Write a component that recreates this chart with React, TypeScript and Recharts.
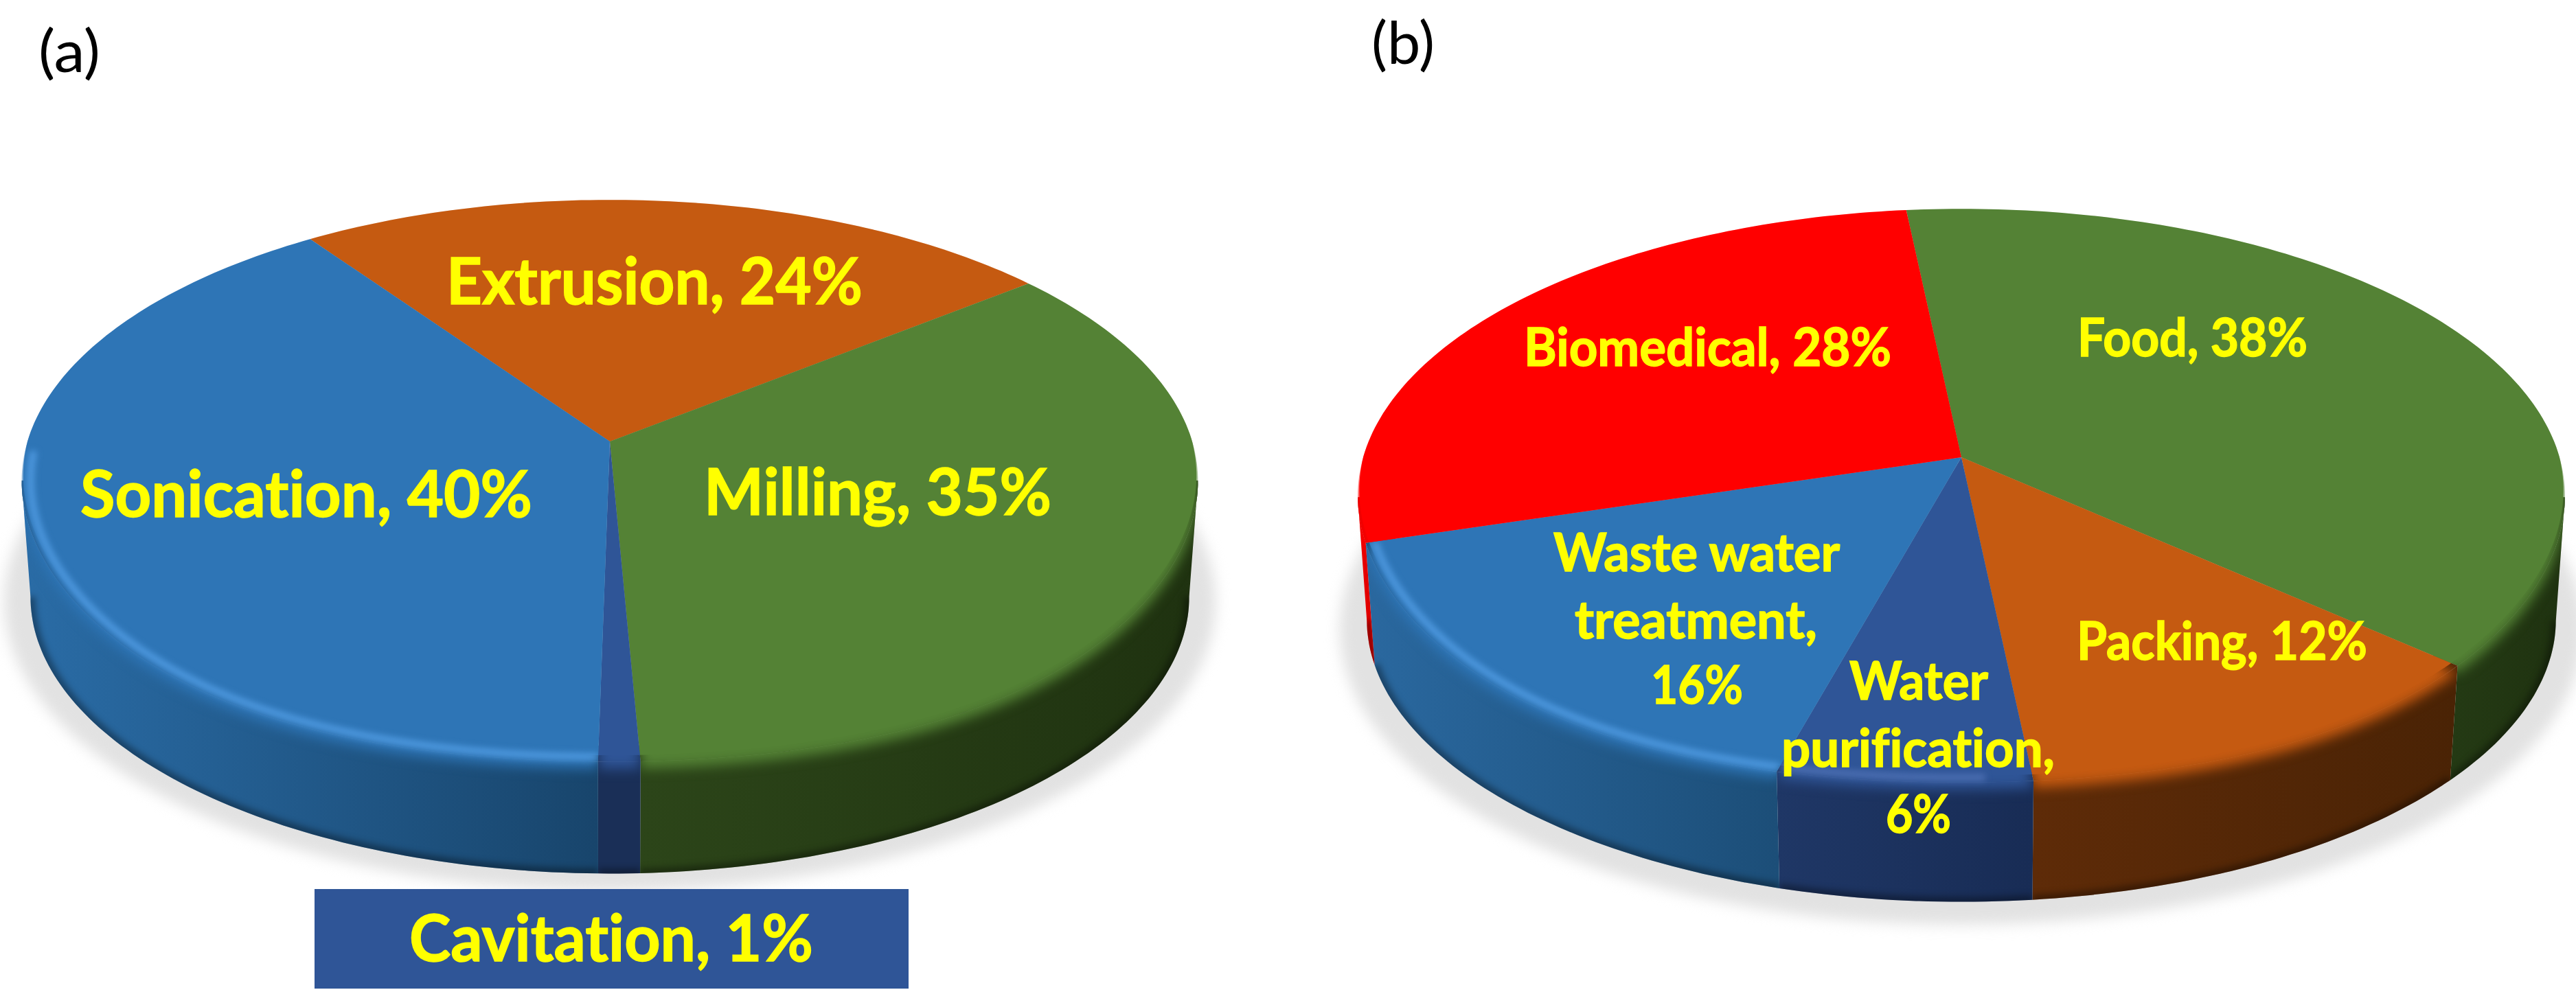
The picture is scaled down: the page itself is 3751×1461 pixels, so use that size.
import React from 'react';
import { PieChart, Pie } from 'recharts';

const W = 3751;
const H = 1461;

// (a) production methods
const methodNames = ['Extrusion', 'Milling', 'Cavitation', 'Sonication'];
const methodValues = [24, 35, 1, 40];
const methodLines = [['Extrusion, 24%'], ['Milling, 35%'], ['Cavitation, 1%'], ['Sonication, 40%']];

// (b) applications
const useNames = ['Food', 'Packing', 'Water purification', 'Waste water treatment', 'Biomedical'];
const useValues = [38, 12, 6, 16, 28];
const useLines = [
  ['Food, 38%'],
  ['Packing, 12%'],
  ['Water', 'purification,', '6%'],
  ['Waste water', 'treatment,', '16%'],
  ['Biomedical, 28%'],
];

const topColors: any = {
  Extrusion: '#C55A11', Milling: '#548235', Cavitation: '#2F5597', Sonication: '#2E75B6',
  Food: '#548235', Packing: '#C55A11', 'Water purification': '#2F5597',
  'Waste water treatment': '#2E75B6', Biomedical: '#FF0000',
};
const wallColors: any = {
  Extrusion: ['#5c2a08', '#4a2305'], Milling: ['#2c4519', '#1f3210'],
  Cavitation: ['#1a2f57', '#1a2f57'], Sonication: ['#2a6ca6', '#18456c'],
  Food: ['#243a14', '#1f3210'], Packing: ['#5e2b08', '#4a2305'],
  'Water purification': ['#1f3766', '#182c55'], 'Waste water treatment': ['#2a689f', '#1c4e78'],
  Biomedical: ['#f00000', '#d80000'],
};
const rimGlow: any = { Sonication: '#5aa6ee', 'Waste water treatment': '#5aa6ee', 'Water purification': '#5577bb' };

// where each label line sits: [left, baseline, width]
const methodSpots = [
  [[650, 443, 606]],
  [[1025, 750, 506]],
  [[596, 1400, 588]],
  [[117, 753, 658]],
];
const useSpots = [
  [[3025, 519, 335]],
  [[3024, 961, 423]],
  [[2693, 1019, 202], [2594, 1117, 398], [2746, 1213, 95]],
  [[2262, 832, 417], [2293, 930, 353], [2404, 1025, 134]],
  [[2219, 533, 535]],
];

const panels = [
  {
    key: 'a', names: methodNames, values: methodValues, lines: methodLines, spots: methodSpots,
    cx: 888, cy: 643, radius: 848, tilt: 0.473, k: 0.14, depth: 170, shadowDrop: 174, startAngle: 125, fontSize: 94,
  },
  {
    key: 'b', names: useNames, values: useValues, lines: useLines, spots: useSpots,
    cx: 2856, cy: 666, radius: 871, tilt: 0.471, k: 0.134, depth: 181, shadowDrop: 193, startAngle: 96, fontSize: 76,
  },
];

const idOf = (panel: any, name: string) => panel.key + '-' + name.replace(/\s+/g, '-');

// tilted disc with a bit of perspective, far side squeezed; rim is a bit fuller at the front
function project(panel: any, p: any, angle: number, scale = 1, drop = 0) {
  const a = (angle * Math.PI) / 180;
  const s = Math.sin(a);
  const w = 1 + panel.k * s;
  const fuller = drop === 0 && s < 0 ? 1 + 0.035 * Math.sin(2 * a) ** 2 : 1;
  return [
    p.cx + (scale * p.outerRadius * Math.cos(a)) / w,
    p.cy + drop - (scale * fuller * p.outerRadius * panel.tilt * s) / w,
  ];
}

function arc(panel: any, p: any, from: number, to: number, scale = 1, drop = 0) {
  const steps = Math.max(2, Math.ceil(Math.abs(to - from)));
  const pts: string[] = [];
  for (let i = 0; i <= steps; i++) {
    const q = project(panel, p, from + ((to - from) * i) / steps, scale, drop);
    pts.push(q[0].toFixed(1) + ' ' + q[1].toFixed(1));
  }
  return pts;
}

const topPath = (panel: any, p: any, scale = 1) =>
  'M' + p.cx + ' ' + p.cy + ' L' + arc(panel, p, p.startAngle, p.endAngle, scale).join(' L') + ' Z';

// front of the disc only, the back of the wall can't be seen
const frontFrom = -8;
const frontTo = -172;

const shadowShape = (panel: any) => (p: any) => (
  <path
    d={'M' + arc(panel, p, 0, 360, 1.03, panel.shadowDrop).join(' L') + ' Z'}
    fill="#e2e2e2"
    style={{ filter: 'blur(10px)' }}
  />
);

const wallShape = (panel: any) => (p: any) => {
  const id = idOf(panel, p.name);
  const from = Math.min(p.startAngle, frontFrom);
  const to = Math.max(p.endAngle, frontTo);
  const seen = from > to;
  const outline = seen
    ? 'M' + arc(panel, p, from, to).join(' L') + ' L' + arc(panel, p, to, from, 0.985, panel.depth).join(' L') + ' Z'
    : '';
  // strip just inside the rim so nothing shows through the soft edge
  const strip = seen
    ? 'M' + arc(panel, p, from, to).join(' L') + ' L' + arc(panel, p, to, from, 0.95).join(' L') + ' Z'
    : '';
  return (
    <g>
      <defs>
        <linearGradient id={'wall-' + id} x1="0" x2="1" y1="0" y2="0">
          <stop offset="0" stopColor={wallColors[p.name][0]} />
          <stop offset="1" stopColor={wallColors[p.name][1]} />
        </linearGradient>
        <clipPath id={'clip-' + id}>
          {seen && <path d={outline} />}
          <path d={topPath(panel, p)} />
        </clipPath>
      </defs>
      {seen && <path d={outline} fill={'url(#wall-' + id + ')'} />}
      {seen && <path d={strip} fill={wallColors[p.name][1]} />}
      {seen && (
        <g clipPath={'url(#clip-' + id + ')'}>
          <path
            d={'M' + arc(panel, p, from, to, 0.985, panel.depth).join(' L')}
            fill="none"
            stroke="#000"
            strokeOpacity={0.35}
            strokeWidth={14}
            style={{ filter: 'blur(5px)' }}
          />
        </g>
      )}
    </g>
  );
};

const topShape = (panel: any) => (p: any) => {
  const id = idOf(panel, p.name);
  const glow = rimGlow[p.name];
  const hi = Math.min(p.startAngle, -88);
  const lo = Math.max(p.endAngle, -178);
  // crisp edge at the back, soft roll-over at the front
  const steps = Math.ceil(Math.abs(p.startAngle - p.endAngle));
  const crisp: string[] = [];
  for (let i = 0; i <= steps; i++) {
    const ang = p.startAngle + ((p.endAngle - p.startAngle) * i) / steps;
    const s = Math.sin((ang * Math.PI) / 180);
    const q = project(panel, p, ang, 1 - 0.02 * Math.max(0, -s));
    crisp.push(q[0].toFixed(1) + ' ' + q[1].toFixed(1));
  }
  return (
    <g>
      <g clipPath={'url(#clip-' + id + ')'}>
        <g transform="translate(0 10)">
          <path d={topPath(panel, p)} fill={p.fill} style={{ filter: 'blur(9px)' }} />
        </g>
      </g>
      <path d={'M' + p.cx + ' ' + p.cy + ' L' + crisp.join(' L') + ' Z'} fill={p.fill} />
      {glow && hi > lo && (
        <g clipPath={'url(#clip-' + id + ')'}>
          <path
            d={'M' + arc(panel, p, hi, lo, 0.985).join(' L')}
            fill="none"
            stroke={glow}
            strokeOpacity={0.75}
            strokeWidth={10}
            style={{ filter: 'blur(5px)' }}
          />
        </g>
      )}
    </g>
  );
};

const labelFor = (panel: any) => (p: any) => {
  const i = panel.names.indexOf(p.name);
  return (
    <g key={p.name}>
      {p.name === 'Cavitation' && <rect x={458} y={1295} width={865} height={145} fill="#2F5597" />}
      {panel.lines[i].map((line: string, j: number) => (
        <text
          key={line}
          x={panel.spots[i][j][0]}
          y={panel.spots[i][j][1]}
          textLength={panel.spots[i][j][2]}
          lengthAdjust="spacingAndGlyphs"
          textAnchor="start"
          fontFamily="Lato"
          fontWeight={700}
          fontSize={panel.fontSize}
          fill="#FFFF00"
          stroke="#FFFF00"
          strokeWidth={1.5}
          style={{ fontVariantLigatures: 'none' }}
        >
          {line}
        </text>
      ))}
    </g>
  );
};

export default function App() {
  return (
    <div style={{ position: 'absolute', left: 0, top: 0 }}>
      <PieChart width={W} height={H} margin={{ top: 0, right: 0, bottom: 0, left: 0 }}>
        {panels.map((panel) => {
          const table = panel.names.map((name, i) => ({ name, value: panel.values[i], fill: topColors[name] }));
          const common = {
            dataKey: 'value',
            nameKey: 'name',
            cx: panel.cx,
            cy: panel.cy,
            outerRadius: panel.radius,
            startAngle: panel.startAngle,
            endAngle: panel.startAngle - 360,
            stroke: 'none',
            isAnimationActive: false,
          };
          return (
            <React.Fragment key={panel.key}>
              <Pie {...common} data={[{ name: 'shadow', value: 100 }]} shape={shadowShape(panel)} />
              <Pie {...common} data={table} shape={wallShape(panel)} />
              <Pie {...common} data={table} shape={topShape(panel)} label={labelFor(panel)} labelLine={false} />
            </React.Fragment>
          );
        })}
        <text x={56} y={105} fontFamily="Lato" fontSize={86} textLength={90} lengthAdjust="spacingAndGlyphs" fill="#000">(a)</text>
        <text x={1997} y={93} fontFamily="Lato" fontSize={86} textLength={92} lengthAdjust="spacingAndGlyphs" fill="#000">(b)</text>
      </PieChart>
    </div>
  );
}
